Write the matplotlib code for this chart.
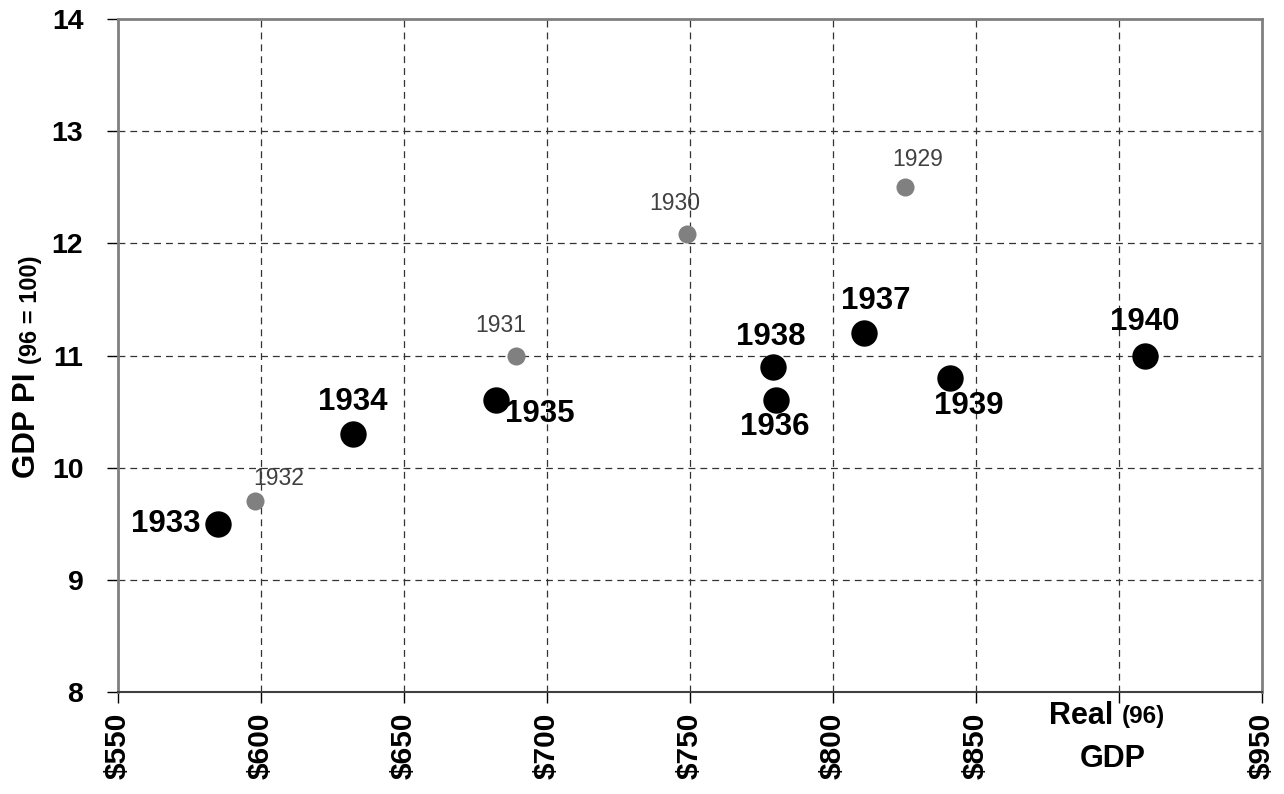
import matplotlib
matplotlib.use("Agg")
import matplotlib.pyplot as plt

# ---- data ----
early_years = ["1929", "1930", "1931", "1932"]
early_gdp = [825, 749, 689, 598]
early_pi = [12.5, 12.08, 11.0, 9.7]

late_years = ["1933", "1934", "1935", "1936", "1937", "1938", "1939", "1940"]
late_gdp = [585, 632, 682, 780, 811, 779, 841, 909]
late_pi = [9.5, 10.3, 10.6, 10.6, 11.2, 10.9, 10.8, 11.0]

x_ticks = [550, 600, 650, 700, 750, 800, 850, 900, 950]
x_tick_labels = ["$550", "$600", "$650", "$700", "$750", "$800", "$850", "", "$950"]
y_ticks = [8, 9, 10, 11, 12, 13, 14]

plt.rcParams["font.family"] = ["Liberation Sans", "DejaVu Sans"]

fig = plt.figure(figsize=(12.84, 7.94), dpi=100)
ax = fig.add_axes([118 / 1284, 1 - 692 / 794, (1262 - 118) / 1284, (692 - 19) / 794])

ax.set_xlim(550, 950)
ax.set_ylim(8, 14)
ax.set_xticks(x_ticks)
ax.set_xticklabels(x_tick_labels, rotation=90, fontsize=21.5, fontweight="bold")
ax.set_yticks(y_ticks)
ax.set_yticklabels([str(v) for v in y_ticks], fontsize=20.5, fontweight="bold")
ax.tick_params(axis="both", direction="out", length=8, width=1, color="black")
ax.tick_params(axis="x", pad=7)
ax.tick_params(axis="y", pad=17)

ax.grid(True, linestyle=(0, (5.5, 4)), color="#333333", linewidth=0.9)
ax.set_axisbelow(True)
for side in ["left", "top", "right"]:
    ax.spines[side].set_color("#808080")
    ax.spines[side].set_linewidth(2)
ax.spines["bottom"].set_color("#404040")
ax.spines["bottom"].set_linewidth(1.5)

ax.scatter(early_gdp, early_pi, s=13 ** 2, color="#808080", zorder=3, linewidths=0)
ax.scatter(late_gdp, late_pi, s=19 ** 2, color="black", zorder=3, linewidths=0)

early_off = {
    "1929": (13, 16, "center", "bottom"),
    "1930": (-12, 19, "center", "bottom"),
    "1931": (-15, 18, "center", "bottom"),
    "1932": (23, 11, "center", "bottom"),
}
late_off = {
    "1933": (-18, 0, "right", "center"),
    "1934": (0, 17, "center", "bottom"),
    "1935": (9, -14, "left", "center"),
    "1936": (-1, -12, "center", "top"),
    "1937": (11, 17, "center", "bottom"),
    "1938": (-2, 15, "center", "bottom"),
    "1939": (18, -13, "center", "top"),
    "1940": (0, 19, "center", "bottom"),
}

for yr, gx, gy in zip(early_years, early_gdp, early_pi):
    dx, dy, ha, va = early_off[yr]
    ax.annotate(yr, (gx, gy), xytext=(dx, dy), textcoords="offset pixels",
                ha=ha, va=va, fontsize=16.5, color="#404040", zorder=4)

for yr, gx, gy in zip(late_years, late_gdp, late_pi):
    dx, dy, ha, va = late_off[yr]
    ax.annotate(yr, (gx, gy), xytext=(dx, dy), textcoords="offset pixels",
                ha=ha, va=va, fontsize=22.5, fontweight="bold", color="black", zorder=4)

# axis titles
W, H = 1284, 794
fig.text(27 / W, 1 - 478 / H, "GDP PI", rotation=90, ha="center", va="bottom",
         fontsize=22.5, fontweight="bold")
fig.text(30 / W, 1 - 364 / H, "(96 = 100)", rotation=90, ha="center", va="bottom",
         fontsize=17, fontweight="bold")

fig.text(1049 / W, 1 - 716 / H, "Real", ha="left", va="center",
         fontsize=22, fontweight="bold")
fig.text(1122 / W, 1 - 717 / H, "(96)", ha="left", va="center",
         fontsize=17.5, fontweight="bold")
fig.text(1113 / W, 1 - 759 / H, "GDP", ha="center", va="center",
         fontsize=22, fontweight="bold")

fig.savefig("out.png", dpi=100)
